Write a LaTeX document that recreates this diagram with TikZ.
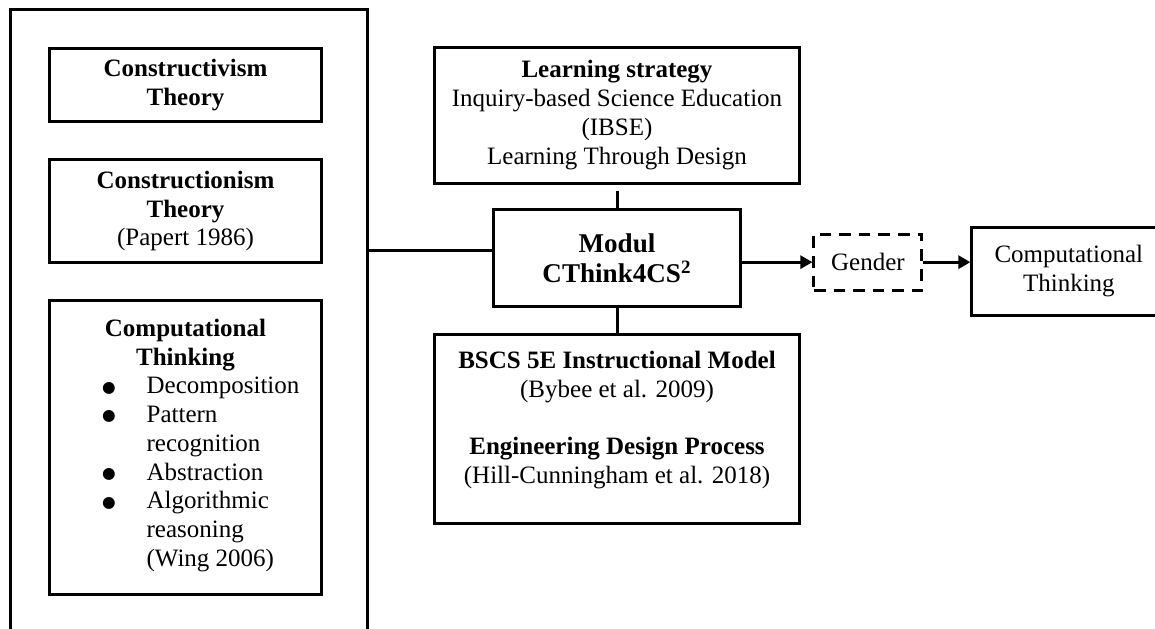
\documentclass[tikz,border=0pt]{standalone}
\usepackage{fontspec}
\setmainfont{Liberation Serif}
\newfontfamily\symfont{DejaVu Sans}
\usetikzlibrary{positioning,arrows.meta}
\newcommand{\bigbul}{\hspace*{-2.6pt}\raisebox{0.8pt}{\symfont\fontsize{7.5}{9}\selectfont ●}}

\begin{document}
\begin{tikzpicture}[x=0.48pt,y=-0.48pt,
  box/.style={draw, line width=1.44pt, align=center, inner sep=2pt, font=\fontsize{12}{13.8}\selectfont},
  dashbox/.style={box, dash pattern=on 5.6pt off 3.8pt},
  link/.style={line width=1.44pt},
  arrow/.style={line width=1.44pt, -{Triangle[length=5.8pt,width=6.2pt]}},
  node distance=16.8pt]
  \useasboundingbox (0,0) rectangle (1155,628);
  \clip (0,0) rectangle (1155,628);
  \node [box, minimum width=170.9pt, minimum height=298.1pt] (F) at (189,320.5) {};
  \node [box, minimum width=131pt, minimum height=35.5pt] (A) at (185.5,85) {\textbf{Constructivism}\\\textbf{Theory}};
  \node [box, below=of A, minimum width=131pt, minimum height=49pt] (B) {\textbf{Constructionism}\\\textbf{Theory}\\(Papert 1986)};
  \node [box, below=of B, minimum width=131pt, minimum height=141.1pt] (C) {\textbf{Computational}\\\textbf{Thinking}\\\hspace*{17.3pt}\begin{tabular}[t]{@{}p{18.7pt}@{}l@{}}
      \bigbul & Decomposition\\
      \bigbul & Pattern\\
              & recognition\\
      \bigbul & Abstraction\\
      \bigbul & Algorithmic\\
              & reasoning\\
              & (Wing 2006)
    \end{tabular}};
  \node [box, minimum width=119pt, minimum height=47pt, font=\fontsize{13}{14.4}\selectfont\bfseries] (M) at (617,258) {Modul\\CThink4CS\textsuperscript{2}};
  \node [box, above=11pt of M, minimum width=175.2pt, minimum height=65.3pt] (L) {\textbf{Learning strategy}\\Inquiry-based Science Education\\(IBSE)\\Learning Through Design};
  \node [box, below=12pt of M, minimum width=175.2pt, minimum height=90.7pt] (E) {\textbf{BSCS 5E Instructional Model}\\(Bybee et al. 2009)\\[13.8pt]\textbf{Engineering Design Process}\\(Hill-Cunningham et al. 2018)\\[-2pt]\mbox{}};
  \node [dashbox, right=33.6pt of M, yshift=-2pt, minimum width=51.8pt, minimum height=26.9pt] (G) {Gender};
  \node [box, right=22.6pt of G, yshift=-4.3pt, minimum width=93pt, minimum height=42.2pt] (O) {Computational\\Thinking};
  \coordinate (J) at ([yshift=3.84pt]M.west);
  \draw [link] (F.east |- J) -- (J);
  \draw [link, shorten <=2.9pt] (L.south) -- (M.north);
  \draw [link] (M.south) -- (E.north);
  \draw [arrow] (M.east |- G.west) -- (G.west);
  \draw [arrow] (G.east) -- (G.east -| O.west);
\end{tikzpicture}
\end{document}
